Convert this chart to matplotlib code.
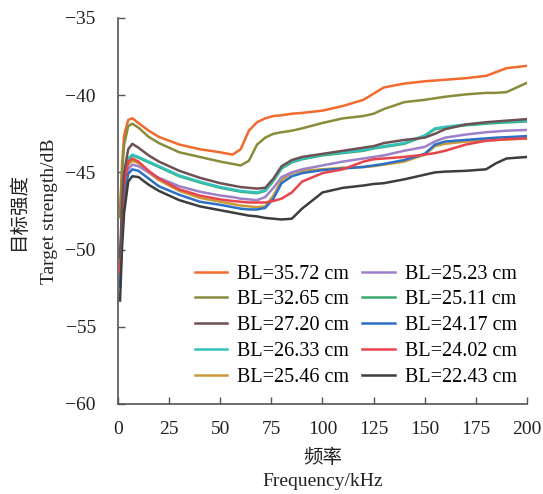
import matplotlib
matplotlib.use('Agg')
import matplotlib.pyplot as plt
import numpy as np

plt.rcParams['font.family'] = ['Liberation Serif', 'Noto Sans CJK SC']

freq = [1, 2, 3, 5, 7, 10, 15, 20, 30, 40, 50, 56, 60, 64, 68, 72, 76, 80, 85, 90,
        100, 110, 120, 125, 130, 140, 150, 155, 160, 170, 180, 185, 190, 200]

ts_3572 = [-47.6, -44.5, -42.6, -41.6, -41.5, -41.8, -42.3, -42.7, -43.2, -43.5, -43.7, -43.85,
           -43.5, -42.3, -41.75, -41.5, -41.35, -41.3, -41.2, -41.15, -41.0, -40.7, -40.3, -39.9,
           -39.5, -39.25, -39.1, -39.05, -39.0, -38.9, -38.75, -38.5, -38.25, -38.1]
ts_3265 = [-47.9, -45.0, -43.2, -42.0, -41.85, -42.1, -42.7, -43.1, -43.7, -44.0, -44.3, -44.45,
           -44.55, -44.25, -43.2, -42.75, -42.5, -42.4, -42.3, -42.15, -41.8, -41.5, -41.35, -41.2,
           -40.9, -40.45, -40.3, -40.2, -40.1, -39.95, -39.85, -39.85, -39.8, -39.2]
ts_2720 = [-50.5, -47.0, -45.0, -43.5, -43.15, -43.4, -43.9, -44.3, -44.9, -45.35, -45.7, -45.85,
           -45.95, -46.0, -46.05, -46.0, -45.4, -44.6, -44.2, -44.0, -43.8, -43.6, -43.4, -43.3,
           -43.1, -42.9, -42.75, -42.5, -42.2, -41.9, -41.75, -41.7, -41.65, -41.55]
ts_2633 = [-51.3, -47.8, -45.7, -44.1, -43.85, -44.0, -44.3, -44.6, -45.2, -45.6, -45.95, -46.1,
           -46.2, -46.25, -46.3, -46.15, -45.5, -44.7, -44.3, -44.1, -43.85, -43.7, -43.55, -43.4,
           -43.3, -43.1, -42.6, -42.15, -42.05, -41.9, -41.8, -41.75, -41.72, -41.65]
ts_2546 = [-51.5, -48.0, -46.0, -44.5, -44.25, -44.4, -45.0, -45.5, -46.2, -46.65, -46.9, -47.05,
           -47.15, -47.2, -47.25, -47.2, -46.5, -45.5, -45.05, -44.9, -44.8, -44.7, -44.65, -44.6,
           -44.5, -44.3, -43.85, -43.3, -43.15, -43.0, -42.95, -42.9, -42.87, -42.8]
ts_2523 = [-51.8, -48.3, -46.2, -44.8, -44.5, -44.6, -45.0, -45.35, -45.9, -46.25, -46.5, -46.6,
           -46.7, -46.75, -46.8, -46.6, -46.0, -45.3, -45.0, -44.8, -44.55, -44.3, -44.1, -44.0,
           -43.9, -43.6, -43.35, -43.0, -42.75, -42.55, -42.4, -42.35, -42.3, -42.25]
ts_2511 = [-51.1, -47.7, -45.6, -44.15, -43.9, -44.05, -44.35, -44.65, -45.25, -45.65, -46.0, -46.15,
           -46.25, -46.3, -46.35, -46.2, -45.55, -44.75, -44.35, -44.15, -43.9, -43.75, -43.6, -43.45,
           -43.35, -43.15, -42.65, -42.2, -42.1, -41.95, -41.85, -41.8, -41.77, -41.7]
ts_2417 = [-52.4, -48.8, -46.7, -45.1, -44.8, -44.9, -45.4, -45.9, -46.45, -46.9, -47.1, -47.25,
           -47.35, -47.4, -47.4, -47.3, -46.7, -45.7, -45.25, -45.05, -44.85, -44.75, -44.65, -44.55,
           -44.45, -44.2, -43.8, -43.2, -43.0, -42.9, -42.8, -42.75, -42.72, -42.65]
ts_2402 = [-51.5, -47.8, -45.8, -44.3, -44.1, -44.3, -44.9, -45.4, -46.1, -46.5, -46.75, -46.85,
           -46.9, -46.95, -46.95, -46.95, -46.85, -46.7, -46.3, -45.6, -45.05, -44.8, -44.3, -44.15,
           -44.1, -44.0, -43.85, -43.75, -43.6, -43.2, -42.95, -42.9, -42.85, -42.8]
ts_2243 = [-53.3, -49.8, -47.6, -45.6, -45.25, -45.3, -45.8, -46.2, -46.8, -47.2, -47.45, -47.6,
           -47.7, -47.8, -47.85, -47.95, -48.0, -48.05, -48.0, -47.35, -46.3, -46.0, -45.85, -45.75,
           -45.7, -45.45, -45.15, -45.0, -44.95, -44.9, -44.8, -44.4, -44.1, -44.0]

labels = ['BL=35.72 cm', 'BL=32.65 cm', 'BL=27.20 cm', 'BL=26.33 cm', 'BL=25.46 cm',
          'BL=25.23 cm', 'BL=25.11 cm', 'BL=24.17 cm', 'BL=24.02 cm', 'BL=22.43 cm']
series = [ts_3572, ts_3265, ts_2720, ts_2633, ts_2546, ts_2523, ts_2511, ts_2417, ts_2402, ts_2243]
colors = ['#f26a2e', '#8b8b3c', '#6e5053', '#33c2bd', '#c99a38',
          '#9d80c8', '#3aa86e', '#2c70c6', '#e8444b', '#3d3d3d']
zorders = [3, 3, 4, 3, 3, 3, 2, 3, 3, 3]

fig = plt.figure(figsize=(5.43, 4.94), dpi=100)
ax = fig.add_axes([0.2173, 0.1822, 0.7532, 0.7814])

for y, lab, c, z in zip(series, labels, colors, zorders):
    ax.plot(freq, y, color=c, lw=1.8, label=lab, zorder=z)

ax.set_xlim(0, 200)
ax.set_ylim(-60, -35)
ax.set_xticks(np.arange(0, 201, 25))
ax.set_yticks(np.arange(-60, -34, 5))
ax.set_yticklabels(['\u221260', '\u221255', '\u221250', '\u221245', '\u221240', '\u221235'])

for s in ['top', 'right']:
    ax.spines[s].set_visible(False)
for s in ['left', 'bottom']:
    ax.spines[s].set_color('#555555')
    ax.spines[s].set_linewidth(1.2)
ax.tick_params(direction='in', length=5, width=1, color='#555555',
               labelsize=14, colors='#222222')
ax.tick_params(axis='y', pad=16)
ax.tick_params(axis='x', pad=12)

ax.set_xlabel('频率\nFrequency/kHz', fontsize=14, color='#222222', linespacing=1.45, labelpad=8)
ax.set_ylabel('目标强度\nTarget strength/dB', fontsize=14, color='#222222', linespacing=2.05, labelpad=5)

ax.legend(ncol=2, frameon=False, fontsize=14.5, loc='lower right',
          bbox_to_anchor=(0.975, 0.045), borderpad=0, borderaxespad=0,
          handlelength=1.6, handletextpad=0.5, columnspacing=0.65, labelspacing=0.33)

fig.savefig('out.png', dpi=100)
